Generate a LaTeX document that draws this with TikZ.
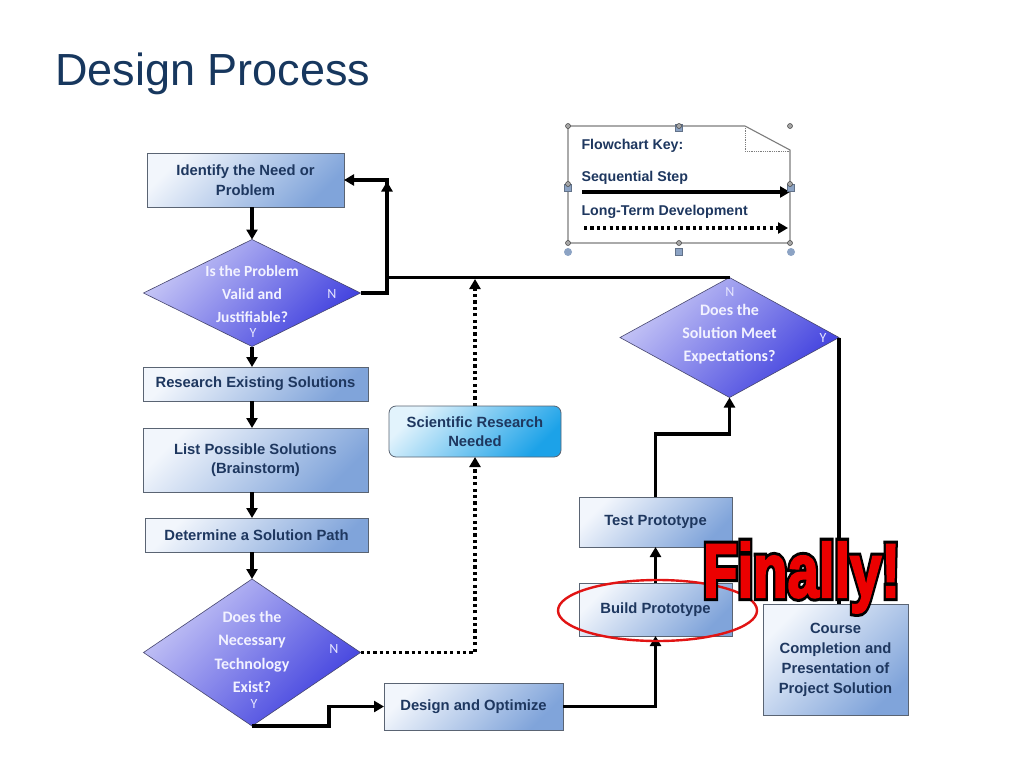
\documentclass[tikz,border=0pt]{standalone}
\usepackage{fontspec}
\setmainfont{Liberation Sans}
\newfontfamily\calfont{Carlito}
\newfontfamily\finfont{Liberation Sans}[BoldFeatures={FakeBold=3}]
\newfontfamily\finline{Liberation Sans}[BoldFeatures={FakeBold=11}]
\usetikzlibrary{arrows.meta,shapes.geometric}
\definecolor{titleblue}{RGB}{23,55,94}
\definecolor{navy}{RGB}{30,55,95}
\definecolor{boxlight}{RGB}{242,246,252}
\definecolor{boxdark}{RGB}{128,164,218}
\definecolor{boxedge}{RGB}{90,100,115}
\definecolor{dialight}{RGB}{200,200,246}
\definecolor{diadark}{RGB}{62,62,222}
\definecolor{diaedge}{RGB}{70,70,110}
\definecolor{scilight}{RGB}{226,243,252}
\definecolor{scidark}{RGB}{28,162,232}
\definecolor{handle}{RGB}{140,163,196}
\definecolor{keyedge}{RGB}{125,125,125}
\definecolor{finred}{RGB}{235,0,0}
\definecolor{ellred}{RGB}{225,20,20}
\tikzset{
  box/.style={draw=boxedge, line width=0.8pt, top color=boxlight, bottom color=boxdark,
    shading angle=45, inner sep=0pt, outer sep=0pt, text=navy, align=center,
    font=\bfseries\fontsize{14.8}{19.5}\selectfont},
  sci/.style={box, rounded corners=7pt, top color=scilight, bottom color=scidark, shading angle=45},
  dia/.style={diamond, draw=diaedge, line width=0.6pt, top color=dialight, bottom color=diadark,
    shading angle=45, inner sep=0pt, outer sep=0pt},
  dtext/.style={text=white!95!blue, align=center, font=\calfont\bfseries\fontsize{16}{23.2}\selectfont},
  yn/.style={text=white!90!blue, font=\calfont\fontsize{14}{14}\selectfont},
  keytext/.style={anchor=west, text=navy, font=\bfseries\fontsize{14.2}{16}\selectfont},
  conn/.style={line width=3.2pt},
  flow/.style={conn, -{Triangle[length=10pt,width=11pt]}},
  dots/.style={line width=3.2pt, dash pattern=on 3.2pt off 3.2pt},
  dflow/.style={dots, -{Triangle[length=10pt,width=11pt]}},
  finstyle/.style={anchor=base west, inner sep=0pt, xscale=0.74},
  xcirc/.style={circle, draw=black!75, fill=black!35, line width=0.5pt, inner sep=0pt, minimum size=5pt},
  hsq/.style={rectangle, fill=handle, draw=handle!70!black, line width=0.3pt, inner sep=0pt, minimum size=7pt},
  hci/.style={circle, fill=handle, inner sep=0pt, minimum size=8pt},
}
\begin{document}
\begin{tikzpicture}[x=1pt,y=-1pt]
\useasboundingbox (0,0) rectangle (1024,768);
\fill[white] (0,0) rectangle (1024,768);

% title
\node[anchor=base west, inner sep=0pt, text=titleblue, font=\fontsize{45}{45}\selectfont] (title) at (55,85) {Design Process};

% flowchart key
\draw[keyedge, line width=1.1pt] (568,126) -- (745,126) -- (790,150) -- (790,243) -- (568,243) -- cycle;
\draw[keyedge, line width=0.8pt, densely dotted] (745,126) -- (745,151) -- (790,151);
\node[keytext] (k1) at (578,146) {Flowchart Key:};
\node[keytext] (k2) at (578,178) {Sequential Step};
\node[keytext] (k3) at (578,212) {Long-Term Development};
\coordinate (ka) at (582,192);
\coordinate (kb) at (790,192);
\coordinate (kc) at (584,228);
\coordinate (kd) at (788,228);
\draw[flow] (ka) -- (kb);
\draw[dflow] (kc) -- (kd);
% selection handles
\node[hsq] (h1) at (679,128) {};
\node[hsq] (h2) at (568,188) {};
\node[hsq] (h3) at (791,188) {};
\node[hsq] (h4) at (679,252) {};
\node[hci] (h5) at (568,252) {};
\node[hci] (h6) at (791,252) {};
\foreach \p in {(568,126),(679,126),(790,126),(568,184),(790,184),(568,243),(679,243),(790,243)}
  \node[xcirc] at \p {};

% nodes
\node[box, minimum width=197pt, minimum height=54pt] (n1) at (245.5,180) {Identify the Need or\\Problem};
\node[dia, minimum width=217pt, minimum height=107pt] (d1) at (252,293) {};
\node[dtext, font=\calfont\bfseries\fontsize{15.5}{23.2}\selectfont] (t1) at (252,294) {Is the Problem\\Valid and\\Justifiable?};
\node[yn] (d1n) at (332,294) {N};
\node[yn] (d1y) at (253,333) {Y};

\node[box, minimum width=225pt, minimum height=34pt] (n2) at (255.5,384) {Research Existing Solutions};
\node[box, minimum width=225pt, minimum height=64pt] (n3) at (255.5,460) {List Possible Solutions\\(Brainstorm)};
\node[box, minimum width=223pt, minimum height=34pt] (n4) at (256.5,535) {Determine a Solution Path};

\node[dia, minimum width=217pt, minimum height=147pt] (d4) at (252,652.5) {};
\node[dtext] (t4) at (252,652) {Does the\\Necessary\\Technology\\Exist?};
\node[yn] (d4n) at (334,649) {N};
\node[yn] (d4y) at (254,704) {Y};

\node[sci, minimum width=172pt, minimum height=51pt] (sr) at (475,431.5) {Scientific Research\\Needed};
\node[box, minimum width=179pt, minimum height=47pt] (des) at (473.5,706.5) {Design and Optimize};
\node[box, minimum width=153pt, minimum height=53pt] (bld) at (655.5,609.5) {Build Prototype};
\node[box, minimum width=153pt, minimum height=50pt] (tst) at (655.5,522) {Test Prototype};

\node[dia, minimum width=219pt, minimum height=120pt] (d3) at (729.5,337.5) {};
\node[dtext] (t3) at (729.5,334) {Does the\\Solution Meet\\Expectations?};
\node[yn] (d3n) at (730,292) {N};
\node[yn] (d3y) at (823,338) {Y};

\node[box, minimum width=145pt, minimum height=111pt, font=\bfseries\fontsize{14.8}{20}\selectfont] (crs) at (835.5,659.5) {Course\\Completion and\\Presentation of\\Project Solution};

% connectors
\coordinate (j1) at (387,180);
\coordinate (c1) at (329,726);
\coordinate (c2) at (655.5,434);
\draw[flow] (d1.north |- n1.south) -- (d1.north);
\draw[flow, shorten >=1.5pt] (d3.north) -| (j1);
\draw[flow] (d1.east) -| (j1) -- (n1.east);
\draw[flow] (d1.south) -- (d1.south |- n2.north);
\draw[flow] (d1.south |- n2.south) -- (d1.south |- n3.north);
\draw[flow] (d1.south |- n3.south) -- (d1.south |- n4.north);
\draw[flow] (d4.north |- n4.south) -- (d4.north);
\draw[dflow] (d4.east) -| (sr.south);
\draw[dflow, shorten >=1.5pt] (sr.north) -- (sr.north |- d3.north);
\draw[flow] (d4.south) -- (c1) |- (des.west);
\draw[flow] (des.east) -| (bld.south);
\draw[flow] (bld.north) -- (tst.south);
\draw[flow] (tst.north) -- (c2) -| (d3.south);
\draw[conn] (d3.east) -- (d3.east |- crs.north);

% red ellipse
\node[ellipse, draw=ellred, line width=2.4pt, minimum width=199pt, minimum height=61pt] (ell) at (657.5,610.5) {};

% Finally! (black outline under red letters)
\coordinate (fc) at (703,597);
\node[finstyle, text=black, font=\finline\bfseries\fontsize{76}{76}\selectfont] (finb) at (fc) {Finally!};
\node[finstyle, text=finred, font=\finfont\bfseries\fontsize{76}{76}\selectfont] (fin) at (fc) {Finally!};
\end{tikzpicture}
\end{document}
